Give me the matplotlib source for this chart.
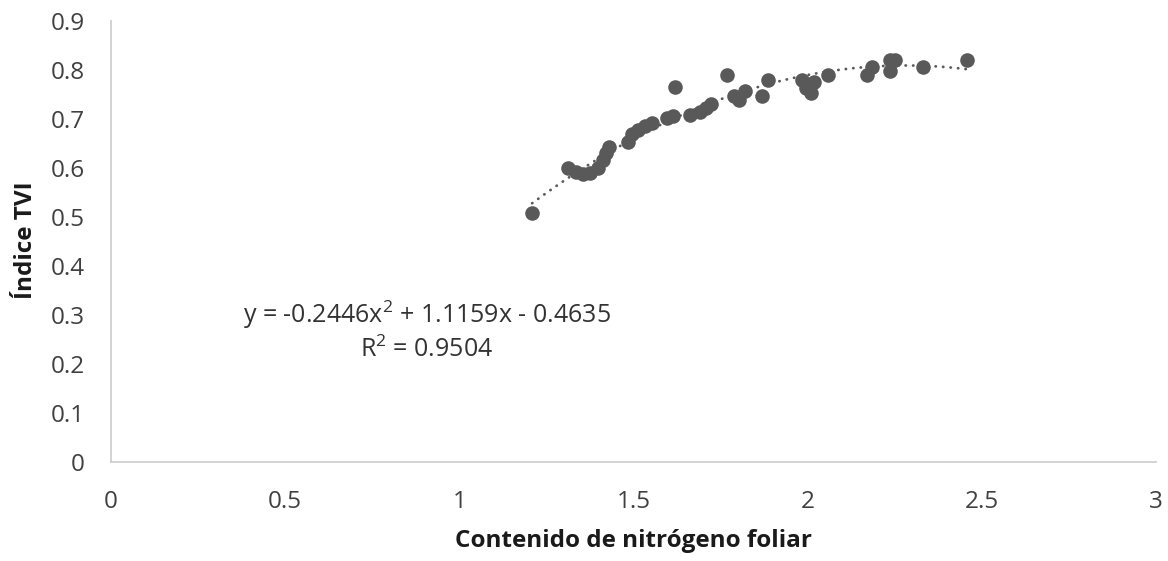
import matplotlib
matplotlib.use("Agg")
import matplotlib.pyplot as plt
import numpy as np

# Data
nitrogeno = [1.209, 1.312, 1.335, 1.355, 1.375, 1.398, 1.413, 1.421, 1.430, 1.484,
             1.496, 1.513, 1.533, 1.553, 1.596, 1.614, 1.619, 1.662, 1.691, 1.708,
             1.723, 1.769, 1.789, 1.803, 1.820, 1.869, 1.886, 1.984, 1.995, 2.010,
             2.018, 2.059, 2.171, 2.185, 2.237, 2.237, 2.251, 2.331, 2.458]
tvi = [0.508, 0.600, 0.592, 0.588, 0.590, 0.600, 0.616, 0.631, 0.643, 0.653,
       0.669, 0.678, 0.686, 0.692, 0.702, 0.706, 0.765, 0.708, 0.714, 0.722,
       0.731, 0.790, 0.747, 0.739, 0.757, 0.747, 0.780, 0.780, 0.763, 0.753,
       0.776, 0.790, 0.790, 0.806, 0.820, 0.798, 0.820, 0.806, 0.820]

# Trendline coefficients as printed on the chart
coef_a, coef_b, coef_c = -0.2446, 1.1159, -0.4635
equation_text = "y = -0.2446x$^{2}$ + 1.1159x - 0.4635"
r2_text = "R$^{2}$ = 0.9504"

x_ticks = [0, 0.5, 1, 1.5, 2, 2.5, 3]
x_tick_labels = ["0", "0.5", "1", "1.5", "2", "2.5", "3"]
y_ticks = [0, 0.1, 0.2, 0.3, 0.4, 0.5, 0.6, 0.7, 0.8, 0.9]
y_tick_labels = ["0", "0.1", "0.2", "0.3", "0.4", "0.5", "0.6", "0.7", "0.8", "0.9"]

plt.rcParams['font.family'] = ['Open Sans', 'DejaVu Sans']
plt.rcParams['mathtext.fontset'] = 'custom'
plt.rcParams['mathtext.rm'] = 'Open Sans'

W, H = 1168, 561
fig = plt.figure(figsize=(W/100, H/100), dpi=100)
ax = fig.add_axes([111/W, 1 - 462/H, (1156-111)/W, (462-21)/H])

xs = np.linspace(min(nitrogeno), max(nitrogeno), 300)
ax.plot(xs, coef_a*xs**2 + coef_b*xs + coef_c, linestyle=(0, (0.1, 2.6)),
        dash_capstyle='round', color='#595959', linewidth=2.0, zorder=2)
ax.scatter(nitrogeno, tvi, s=110, color='#595959', zorder=3, linewidths=0)

ax.set_xlim(0, 3)
ax.set_ylim(0, 0.9)
ax.set_xticks(x_ticks)
ax.set_xticklabels(x_tick_labels)
ax.set_yticks(y_ticks)
ax.set_yticklabels(y_tick_labels)
ax.tick_params(length=0, labelsize=17.5, colors='#404040')
ax.tick_params(axis='y', pad=19)
ax.tick_params(axis='x', pad=20)

for s in ['top', 'right']:
    ax.spines[s].set_visible(False)
for s in ['left', 'bottom']:
    ax.spines[s].set_color('#d0d0d0')
    ax.spines[s].set_linewidth(1.3)

ax.set_xlabel("Contenido de nitrógeno foliar", fontsize=17.5, fontweight='bold',
              color='#1a1a1a')
ax.xaxis.label.set_va('baseline')
ax.xaxis.set_label_coords(0.5, (462 - 547) / 441)
ax.set_ylabel("Índice TVI", fontsize=17.5, fontweight='bold', color='#1a1a1a')
ax.yaxis.label.set_va('center')
ax.yaxis.set_label_coords((26 - 111) / 1045, (462 - 240) / 441)

ax.text(0.906, 0.284, equation_text, fontsize=18, color='#333333',
        ha='center', va='baseline')
ax.text(0.906, 0.214, r2_text, fontsize=18, color='#333333',
        ha='center', va='baseline')

fig.savefig("out.png", dpi=100)
